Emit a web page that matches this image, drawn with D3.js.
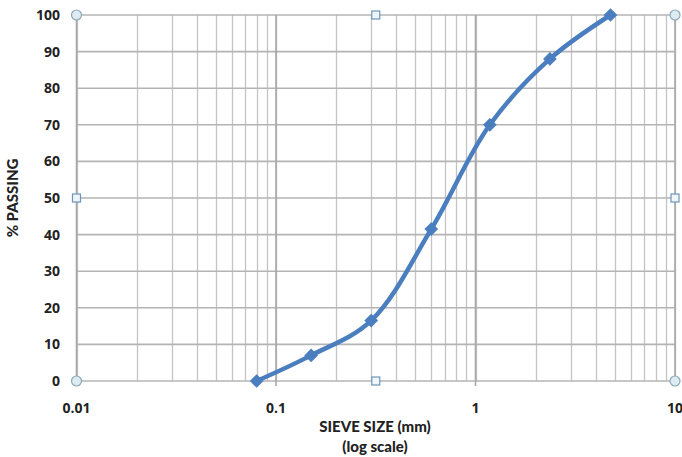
<!DOCTYPE html>
<html><head><meta charset="utf-8">
<script src="https://cdn.jsdelivr.net/npm/d3@7"></script>
<style>body{margin:0;background:#fff}svg{display:block}</style>
</head><body>
<svg id="c" width="682" height="457"></svg>
<script>
const sieveSizes = [0.08, 0.15, 0.3, 0.6, 1.18, 2.36, 4.75];
const percentPassing = [0, 7, 16.5, 41.5, 70, 88, 100];
const xTickLabels = ["0.01", "0.1", "1", "10"];
const xTickValues = [0.01, 0.1, 1, 10];
const yTickValues = [0, 10, 20, 30, 40, 50, 60, 70, 80, 90, 100];

const svg = d3.select("#c");
const L = 76.5, R = 675, T = 15, B = 381;
const x = d3.scaleLog().domain([0.01, 10]).range([L, R]);
const y = d3.scaleLinear().domain([0, 100]).range([B, T]);

// minor vertical grid
const minors = [];
for (let d = 0.01; d < 10; d *= 10) for (let k = 1; k <= 9; k++) minors.push(d * k);
minors.push(10);
svg.append("g").selectAll("line").data(minors).join("line")
  .attr("x1", d => Math.round(x(d)) + 0.5).attr("x2", d => Math.round(x(d)) + 0.5)
  .attr("y1", T).attr("y2", B)
  .attr("stroke", "#c4c4c4").attr("stroke-width", 1.3);
// horizontal grid
svg.append("g").selectAll("line").data(yTickValues).join("line")
  .attr("x1", L).attr("x2", R)
  .attr("y1", d => y(d)).attr("y2", d => y(d))
  .attr("stroke", "#b4b4b4").attr("stroke-width", 1.6);
// major verticals
svg.append("g").selectAll("line").data(xTickValues).join("line")
  .attr("x1", d => x(d)).attr("x2", d => x(d))
  .attr("y1", T).attr("y2", B + 5)
  .attr("stroke", "#a8a8a8").attr("stroke-width", 1.6);

// y axis labels
svg.append("g").selectAll("text").data(yTickValues).join("text")
  .attr("x", 60).attr("y", d => y(d)).attr("dy", "0.35em")
  .attr("text-anchor", "end")
  .attr("font-family", "'Open Sans', sans-serif").attr("font-weight", 700)
  .attr("font-size", 14).attr("fill", "#222").text(d => d);
// x axis labels
svg.append("g").selectAll("text").data(xTickValues).join("text")
  .attr("x", d => x(d)).attr("y", 413)
  .attr("text-anchor", "middle")
  .attr("font-family", "'Open Sans', sans-serif").attr("font-weight", 700)
  .attr("font-size", 14).attr("fill", "#222").text((d, i) => xTickLabels[i]);

// axis titles
svg.append("text").attr("transform", "translate(18,198) rotate(-90)")
  .attr("text-anchor", "middle").attr("font-family", "Lato, sans-serif")
  .attr("font-weight", 900).attr("font-size", 15).attr("fill", "#222").text("% PASSING");
svg.append("text").attr("x", 375).attr("y", 432).attr("text-anchor", "middle")
  .attr("font-family", "Lato, sans-serif").attr("font-weight", 900)
  .attr("font-size", 15).attr("fill", "#222").text("SIEVE SIZE (mm)");
svg.append("text").attr("x", 375).attr("y", 452).attr("text-anchor", "middle")
  .attr("font-family", "Lato, sans-serif").attr("font-weight", 900)
  .attr("font-size", 15).attr("fill", "#222").text("(log scale)");

// data line
const pts = sieveSizes.map((s, i) => [s, percentPassing[i]]);
const line = d3.line().x(d => x(d[0])).y(d => y(d[1])).curve(d3.curveCatmullRom.alpha(0.5));
svg.append("path").datum(pts).attr("d", line)
  .attr("fill", "none").attr("stroke", "#4a7ebf").attr("stroke-width", 4.5)
  .attr("stroke-linejoin", "round");
svg.append("g").selectAll("path").data(pts).join("path")
  .attr("transform", d => `translate(${x(d[0])},${y(d[1])})`)
  .attr("d", d3.symbol().type(d3.symbolDiamond2).size(120))
  .attr("fill", "#4a7ebf");

// selection handles
const corners = [[L, T], [R, T], [L, B], [R, B]];
svg.append("g").selectAll("circle").data(corners).join("circle")
  .attr("cx", d => d[0]).attr("cy", d => d[1]).attr("r", 5)
  .attr("fill", "#dcecf2").attr("stroke", "#8fa9b8").attr("stroke-width", 1.2);
const mids = [[(L + R) / 2, T], [(L + R) / 2, B], [L, (T + B) / 2], [R, (T + B) / 2]];
svg.append("g").selectAll("rect").data(mids).join("rect")
  .attr("x", d => d[0] - 4).attr("y", d => d[1] - 4).attr("width", 8).attr("height", 8)
  .attr("fill", "#eef6fb").attr("stroke", "#6f95b8").attr("stroke-width", 1.2);
</script>
</body></html>
